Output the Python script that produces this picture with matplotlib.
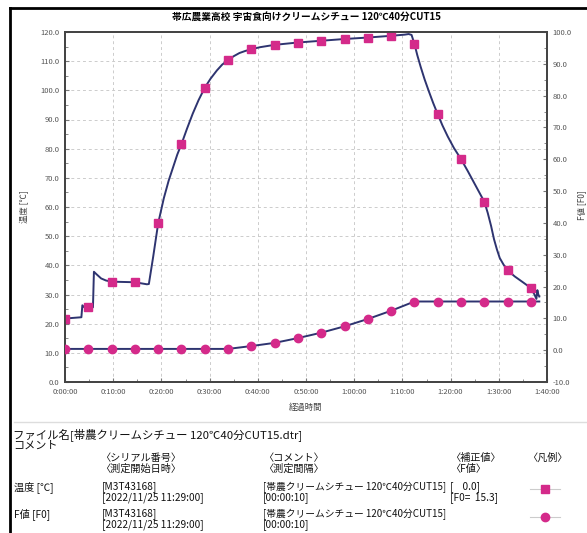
import numpy as np
import matplotlib
matplotlib.use("Agg")
import matplotlib.pyplot as plt
from matplotlib.ticker import MultipleLocator, FuncFormatter
from matplotlib.lines import Line2D

plt.rcParams['font.family'] = ['Noto Sans CJK JP', 'DejaVu Sans']

# marker times (min) and values
t_mark = [0, 4.83, 9.67, 14.5, 19.33, 24.17, 29, 33.83, 38.67, 43.5, 48.33, 53.17,
          58, 62.83, 67.67, 72.5, 77.33, 82.17, 87, 91.83, 96.67]
temp_mark = [21.6, 25.8, 34.4, 34.2, 54.4, 81.6, 100.9, 110.4, 114.1, 115.6, 116.4, 117.0,
             117.6, 118.1, 118.7, 115.9, 91.8, 76.4, 61.8, 38.3, 32.2]
f0_mark = [0.4, 0.4, 0.4, 0.4, 0.4, 0.4, 0.4, 0.4, 1.3, 2.3, 3.8, 5.5,
           7.5, 9.8, 12.4, 15.3, 15.3, 15.3, 15.3, 15.3, 15.3]

# temperature trace
t_temp = [0, 0.3, 3.4, 3.6, 4.0, 5.8, 6.0, 6.5, 7.5, 8.5, 9.67, 14.5, 17.0, 17.4,
          18.3, 19.33, 20.5, 21.5, 22.5, 23.3, 24.17, 25.3, 26.5, 27.7, 29, 30.2, 31.5,
          32.6, 33.83, 35, 36.2, 37.4, 38.67, 40.5, 43.5, 48.33, 53.17, 58, 62.83, 67.67,
          70.5, 71.3, 71.9, 72.5, 73.1, 73.8, 74.6, 75.5, 76.4, 77.33, 78.3, 79.4, 80.7,
          82.17, 83.6, 85.2, 87, 87.7, 88.4, 89.0, 89.6, 90.2, 91.0, 91.83, 93.3, 95.0,
          96.67, 97.4, 97.8, 98.0, 98.2, 98.4]
temp = [21.6, 21.8, 22.2, 26.3, 25.6, 25.6, 37.8, 37.0, 35.5, 34.8, 34.4, 34.2, 33.5, 33.6,
        43.0, 54.4, 63.0, 69.0, 74.0, 78.0, 81.6, 86.8, 92.0, 96.6, 100.9, 104.0, 106.8,
        108.8, 110.4, 111.7, 112.8, 113.5, 114.1, 114.8, 115.6, 116.4, 117.0, 117.6, 118.1, 118.7,
        119.1, 119.3, 119.0, 115.9, 112.0, 108.0, 103.8, 99.6, 95.6, 91.8, 88.0, 84.2, 80.2,
        76.4, 72.2, 67.3, 61.8, 58.0, 53.5, 49.0, 45.5, 42.5, 40.2, 38.3, 36.2, 34.2,
        32.2, 30.0, 28.5, 31.5, 30.0, 29.3]

# F0 trace
t_f0 = t_mark + [98.4]
f0 = f0_mark + [15.3]

title = "帯広農業高校 宇宙食向けクリームシチュー 120℃40分CUT15"
line_c = "#2e3470"
mark_c = "#d42a8a"
W, H = 587, 533

fig = plt.figure(figsize=(W / 100, H / 100), dpi=100)
ax = fig.add_axes([65 / W, 1 - 382 / H, (547 - 65) / W, 350 / H])
ax2 = ax.twinx()

ax.plot(t_temp, temp, color=line_c, lw=1.4, zorder=3)
ax.plot(t_mark, temp_mark, ls="none", marker="s", ms=5.5, color=mark_c, zorder=4)
ax2.plot(t_f0, f0, color=line_c, lw=1.4, zorder=3)
ax2.plot(t_mark, f0_mark, ls="none", marker="o", ms=6, color=mark_c, zorder=4)

ax.set_xlim(0, 100)
ax.set_ylim(0, 120)
ax2.set_ylim(-10, 100)

ax.xaxis.set_major_locator(MultipleLocator(10))
ax.xaxis.set_minor_locator(MultipleLocator(5))
ax.yaxis.set_major_locator(MultipleLocator(10))
ax.yaxis.set_minor_locator(MultipleLocator(5))
ax2.yaxis.set_major_locator(MultipleLocator(10))
ax2.yaxis.set_minor_locator(MultipleLocator(5))
ax.xaxis.set_major_formatter(FuncFormatter(lambda v, p: "%d:%02d:00" % (int(v) // 60, int(v) % 60)))
ax.yaxis.set_major_formatter(FuncFormatter(lambda v, p: "%.1f" % v))
ax2.yaxis.set_major_formatter(FuncFormatter(lambda v, p: "%.1f" % v))

for a in (ax, ax2):
    a.tick_params(which="both", direction="in", labelsize=5.5, labelcolor="#555555", color="#777777")
    a.tick_params(which="major", length=3, pad=4)
    a.tick_params(which="minor", length=2)
    for s in a.spines.values():
        s.set_color("#444444")
        s.set_linewidth(1.3)

ax.grid(True, which="major", color="#cccccc", ls=(0, (3, 3)), lw=0.7)

ax.set_title(title, fontsize=7, fontweight="bold", pad=9)
ax.set_xlabel("経過時間", fontsize=6, color="#444444", labelpad=5)
fig.text(25 / W, 1 - 207 / H, "温度 [℃]", rotation=90, fontsize=6, color="#444444",
         ha="center", va="center")
fig.text(582 / W, 1 - 205 / H, "F値 [F0]", rotation=90, fontsize=6, color="#444444",
         ha="center", va="center")

# frame
fig.add_artist(Line2D([10 / W, 10 / W], [0, 1 - 8 / H], color="black", lw=2))
fig.add_artist(Line2D([10 / W, 1], [1 - 8 / H, 1 - 8 / H], color="black", lw=2))
fig.add_artist(Line2D([14 / W, 1], [1 - 422 / H, 1 - 422 / H], color="#dddddd", lw=1))

# info table
def txt(x, y, s, fs=7.3):
    fig.text(x / W, 1 - y / H, s, fontsize=fs, ha="left", va="center", color="#111111")

txt(13, 435, "ファイル名[帯農クリームシチュー 120℃40分CUT15.dtr]", 8.2)
txt(13, 446, "コメント", 8.0)
txt(100, 458, "〈シリアル番号〉")
txt(100, 469, "〈測定開始日時〉")
txt(263, 458, "〈コメント〉")
txt(263, 469, "〈測定間隔〉")
txt(450, 458, "〈補正値〉")
txt(450, 469, "〈F値〉")
txt(527, 458, "〈凡例〉")

txt(14, 487, "温度 [℃]")
txt(102, 487, "[M3T43168]")
txt(102, 498, "[2022/11/25 11:29:00]")
txt(263, 487, "[帯農クリームシチュー 120℃40分CUT15]", 7.0)
txt(263, 498, "[00:00:10]")
txt(450, 487, "[    0.0]")
txt(450, 498, "[F0=  15.3]")

txt(14, 514, "F値 [F0]")
txt(102, 514, "[M3T43168]")
txt(102, 525, "[2022/11/25 11:29:00]")
txt(263, 514, "[帯農クリームシチュー 120℃40分CUT15]", 7.0)
txt(263, 525, "[00:00:10]")

fig.add_artist(Line2D([530 / W, 560 / W], [1 - 489 / H] * 2, color="#cccccc", lw=0.8))
fig.add_artist(Line2D([545 / W], [1 - 489 / H], ls="none", marker="s", ms=5.5, color=mark_c))
fig.add_artist(Line2D([530 / W, 560 / W], [1 - 517 / H] * 2, color="#cccccc", lw=0.8))
fig.add_artist(Line2D([545 / W], [1 - 517 / H], ls="none", marker="o", ms=6, color=mark_c))

fig.savefig("out.png", dpi=100)
